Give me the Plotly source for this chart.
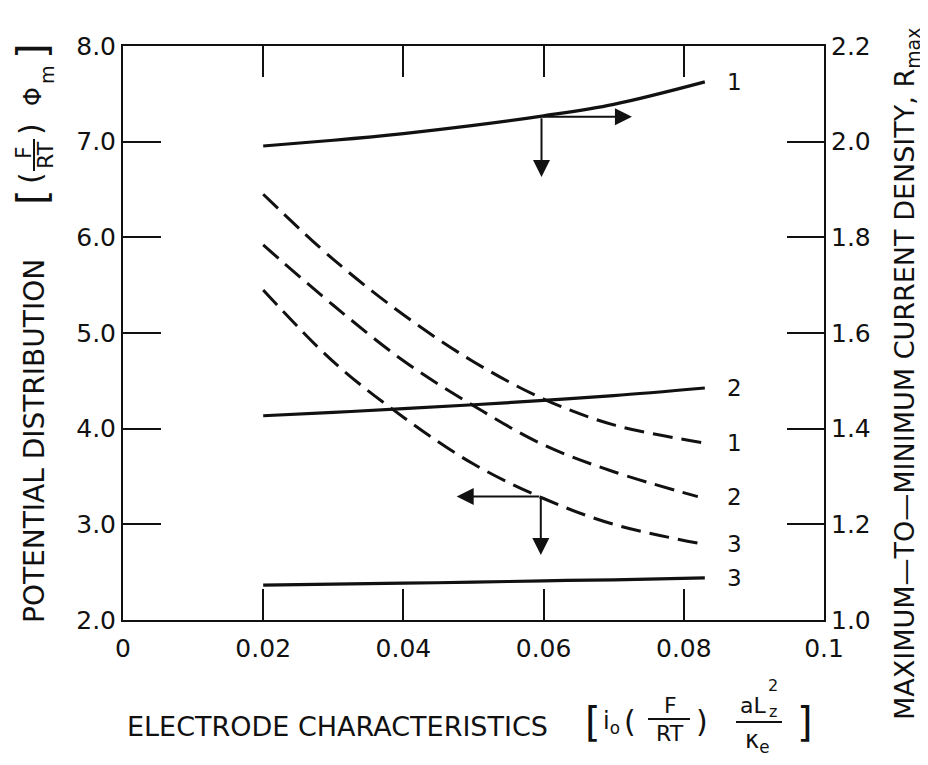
import plotly.graph_objects as go

# ---- data ----
x_ticks = [0, 0.02, 0.04, 0.06, 0.08, 0.1]
x_tick_text = ["0", "0.02", "0.04", "0.06", "0.08", "0.1"]
y_left_ticks = [2, 3, 4, 5, 6, 7, 8]
y_right_ticks = [1.0, 1.2, 1.4, 1.6, 1.8, 2.0, 2.2]

# solid curves: max-to-min current density R_max (right axis)
x_solid = [0.02, 0.03, 0.04, 0.05, 0.06, 0.07, 0.083]
r_max_1 = [1.991, 2.003, 2.017, 2.034, 2.054, 2.078, 2.125]
r_max_2 = [1.427, 1.434, 1.442, 1.450, 1.459, 1.469, 1.485]
r_max_3 = [1.073, 1.075, 1.077, 1.079, 1.082, 1.084, 1.088]

# dashed curves: potential distribution (F/RT)Phi_m (left axis)
x_phi_1 = [0.02, 0.03, 0.04, 0.05, 0.06, 0.07, 0.083]
phi_1 = [6.45, 5.77, 5.19, 4.70, 4.31, 4.04, 3.85]
x_phi_2 = [0.02, 0.03, 0.04, 0.05, 0.06, 0.07, 0.082]
phi_2 = [5.92, 5.29, 4.71, 4.24, 3.83, 3.55, 3.29]
x_phi_3 = [0.02, 0.03, 0.04, 0.05, 0.06, 0.07, 0.083]
phi_3 = [5.45, 4.70, 4.12, 3.63, 3.27, 3.00, 2.79]

curve_labels = ["1", "2", "3"]

# arrows: (origin x, origin y on left scale, horizontal head x, vertical head y)
arrow_right = (0.0597, 7.26, 0.0726, 6.63)
arrow_left = (0.0596, 3.29, 0.0476, 2.68)

FONT = "DejaVu Sans"
BLACK = "#111111"

# page body margin offset (the page is drawn 8px in from the top-left)
OFF = 8
W, H = 928 - OFF, 765 - OFF
# plot area in screen pixels
L, R, T, B = 123, 824, 46, 620

fig = go.Figure()

for yv in (r_max_1, r_max_2, r_max_3):
    fig.add_trace(go.Scatter(x=x_solid, y=yv, mode="lines", yaxis="y2",
                             line=dict(color=BLACK, width=3.2, shape="spline",
                                       smoothing=1.0),
                             showlegend=False, hoverinfo="skip"))
for xv, yv in ((x_phi_1, phi_1), (x_phi_2, phi_2), (x_phi_3, phi_3)):
    fig.add_trace(go.Scatter(x=xv, y=yv, mode="lines", yaxis="y",
                             line=dict(color=BLACK, width=3, shape="spline",
                                       dash="20px,9px"),
                             showlegend=False, hoverinfo="skip"))

ann = []
# curve number labels at the end of each curve
label_x = 0.0873
for lab, yv in zip(curve_labels, (r_max_1, r_max_2, r_max_3)):
    ann.append(dict(x=label_x, y=yv[-1], xref="x", yref="y2", text=lab,
                    showarrow=False, font=dict(family=FONT, size=23, color=BLACK),
                    xanchor="center", yanchor="middle"))
for lab, yv in zip(curve_labels, (phi_1, phi_2, phi_3)):
    ann.append(dict(x=label_x, y=yv[-1], xref="x", yref="y", text=lab,
                    showarrow=False, font=dict(family=FONT, size=23, color=BLACK),
                    xanchor="center", yanchor="middle"))

# arrows
for ox, oy, hx, vy in (arrow_right, arrow_left):
    ann.append(dict(x=hx, y=oy, ax=ox, ay=oy, xref="x", yref="y", axref="x", ayref="y",
                    showarrow=True, arrowhead=2, arrowsize=1.7, arrowwidth=2,
                    arrowcolor=BLACK, text="", standoff=0, startstandoff=0))
    ann.append(dict(x=ox, y=vy, ax=ox, ay=oy, xref="x", yref="y", axref="x", ayref="y",
                    showarrow=True, arrowhead=2, arrowsize=1.7, arrowwidth=2,
                    arrowcolor=BLACK, text="", standoff=0, startstandoff=0))


def px(xp):
    return (xp - L) / (R - L)


def py(yp):
    return (B - yp) / (B - T)


def txt(xp, yp, s, size, angle=0):
    ann.append(dict(x=px(xp), y=py(yp), xref="paper", yref="paper", text=s,
                    showarrow=False, textangle=angle,
                    font=dict(family=FONT, size=size, color=BLACK),
                    xanchor="center", yanchor="middle"))


shapes = []


def hline(x0, x1, y):
    shapes.append(dict(type="line", xref="paper", yref="paper",
                       x0=px(x0), x1=px(x1), y0=py(y), y1=py(y),
                       line=dict(color=BLACK, width=2)))


def vline(x, y0, y1):
    shapes.append(dict(type="line", xref="paper", yref="paper",
                       x0=px(x), x1=px(x), y0=py(y0), y1=py(y1),
                       line=dict(color=BLACK, width=2)))


# bottom title
txt(337, 726, "ELECTRODE CHARACTERISTICS", 27)
txt(593, 722, "[", 40)
txt(611, 722, "i<sub>o</sub>", 24)
txt(630, 721, "(", 30)
txt(670, 706, "F", 22)
hline(648, 690, 719)
txt(670, 733, "RT", 22)
txt(702, 721, ")", 30)
txt(753, 705, "aL", 22)
txt(773, 685, "2", 16)
txt(773, 711, "z", 16)
hline(736, 782, 722)
txt(757, 741, "κ<sub>e</sub>", 24)
txt(805, 722, "]", 40)

# left title (rotated)
txt(34, 441, "POTENTIAL DISTRIBUTION", 28, -90)
txt(32, 197, "[", 40, -90)
txt(30, 178, "(", 30, -90)
txt(23, 153, "F", 22, -90)
vline(34, 139, 171)
txt(45, 155, "RT", 22, -90)
txt(30, 129, ")", 30, -90)
txt(33, 97, "Φ", 24, -90)
txt(47, 75, "m", 19, -90)
txt(32, 51, "]", 40, -90)

# right title (rotated)
txt(906, 374, "MAXIMUM—TO—MINIMUM CURRENT DENSITY, R<sub>max</sub>", 27, -90)

fig.update_layout(
    width=W, height=H,
    margin=dict(l=L - OFF, r=W - (R - OFF), t=T - OFF, b=H - (B - OFF), pad=0),
    paper_bgcolor="white", plot_bgcolor="white",
    font=dict(family=FONT, size=22, color=BLACK),
    showlegend=False,
    xaxis=dict(range=[0, 0.1], tickvals=x_ticks, ticktext=x_tick_text,
               ticks="inside", ticklen=31, tickwidth=2, tickcolor=BLACK,
               showline=True, linewidth=2, linecolor=BLACK, mirror="ticks",
               showgrid=False, zeroline=False, ticklabelstandoff=5,
               tickfont=dict(family=FONT, size=25, color=BLACK)),
    yaxis=dict(range=[2, 8], tickvals=y_left_ticks, tickformat=".1f",
               ticks="inside", ticklen=38, tickwidth=2, tickcolor=BLACK,
               showline=True, linewidth=2, linecolor=BLACK,
               showgrid=False, zeroline=False,
               tickfont=dict(family=FONT, size=25, color=BLACK)),
    yaxis2=dict(range=[1.0, 2.2], tickvals=y_right_ticks, tickformat=".1f",
                overlaying="y", side="right",
                ticks="inside", ticklen=37, tickwidth=2, tickcolor=BLACK,
                showline=True, linewidth=2, linecolor=BLACK,
                showgrid=False, zeroline=False,
                tickfont=dict(family=FONT, size=25, color=BLACK)),
    annotations=ann,
    shapes=shapes,
)

fig.write_html("out.html")
